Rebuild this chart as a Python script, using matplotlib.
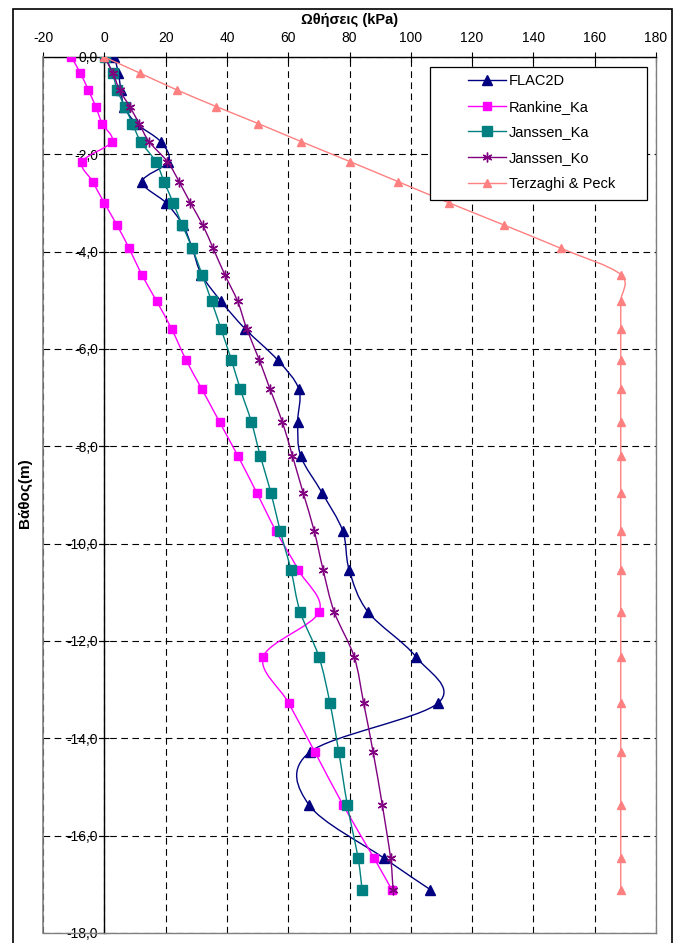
import numpy as np
import matplotlib
matplotlib.use("Agg")
import matplotlib.pyplot as plt
from matplotlib.path import Path
from matplotlib.patches import PathPatch, Rectangle
from matplotlib.lines import Line2D
from matplotlib.ticker import FuncFormatter

plt.rcParams['font.family'] = ['Liberation Sans', 'DejaVu Sans']
plt.rcParams['axes.unicode_minus'] = False

# depth (m), negative downwards
depth = [0.0, -0.33, -0.68, -1.02, -1.37, -1.74, -2.15, -2.56, -3.00, -3.45,
         -3.93, -4.47, -5.02, -5.59, -6.23, -6.83, -7.50, -8.20, -8.96, -9.74,
         -10.54, -11.40, -12.32, -13.27, -14.28, -15.37, -16.46, -17.11]

# thrust (kPa)
flac2d = [3.3, 4.6, 5.4, 6.5, 10.5, 18.4, 20.9, 12.4, 20.2, 25.6,
          28.7, 31.7, 38.1, 46.0, 56.6, 63.5, 63.1, 64.1, 71.1, 77.8,
          79.9, 86.0, 101.6, 109.0, 67.1, 66.8, 91.2, 106.4]
rankine_ka = [-10.8, -7.8, -5.2, -2.8, -0.7, 2.4, -7.2, -3.8, 0.0, 4.1,
              8.1, 12.2, 17.1, 22.0, 26.7, 31.9, 37.6, 43.6, 49.8, 56.0,
              63.3, 70.1, 51.9, 60.1, 68.7, 77.9, 88.0, 93.8]
janssen_ka = [0.3, 2.7, 4.2, 6.7, 9.2, 11.9, 16.8, 19.5, 22.5, 25.4,
              28.7, 31.9, 35.0, 38.1, 41.5, 44.4, 48.0, 50.9, 54.4, 57.4,
              60.9, 63.9, 70.0, 73.6, 76.5, 79.3, 82.8, 84.1]
janssen_ko = [0.0, 2.8, 5.0, 8.3, 11.4, 14.6, 20.6, 24.4, 28.1, 32.1,
              35.5, 39.3, 43.5, 46.5, 50.6, 54.1, 58.1, 61.4, 64.9, 68.5,
              71.4, 75.0, 81.5, 84.6, 87.7, 90.7, 93.4, 94.2]
terzaghi_peck = [0.0, 11.6, 23.8, 36.6, 50.3, 64.3, 80.2, 95.8, 112.6, 130.3,
                 148.9, 168.5, 168.5, 168.5, 168.5, 168.5, 168.5, 168.5, 168.5, 168.5,
                 168.5, 168.5, 168.5, 168.5, 168.5, 168.5, 168.5, 168.5]

x_ticks = [-20, 0, 20, 40, 60, 80, 100, 120, 140, 160, 180]
y_ticks = [0, -2, -4, -6, -8, -10, -12, -14, -16, -18]


def smooth_path(x, y):
    # excel style smoothed line: cubic bezier through the points
    pts = np.column_stack([x, y])
    n = len(pts)
    verts = [pts[0]]
    codes = [Path.MOVETO]
    for i in range(n - 1):
        p0 = pts[max(i - 1, 0)]
        p1 = pts[i]
        p2 = pts[i + 1]
        p3 = pts[min(i + 2, n - 1)]
        verts += [p1 + (p2 - p0) / 6, p2 - (p3 - p1) / 6, p2]
        codes += [Path.CURVE4] * 3
    return Path(verts, codes)


W, H = 679, 943
fig = plt.figure(figsize=(W / 100, H / 100), dpi=100)
L, R, T, B = 43, 656, 57, 933
ax = fig.add_axes([L / W, 1 - B / H, (R - L) / W, (B - T) / H])
ax.set_xlim(-20, 180)
ax.set_ylim(-18, 0)

series = [
    ("FLAC2D", flac2d, "#000080", "^", 7.5, 3),
    ("Rankine_Ka", rankine_ka, "#FF00FF", "s", 5.5, 3.1),
    ("Janssen_Ka", janssen_ka, "#008080", "s", 7, 3.2),
    ("Janssen_Ko", janssen_ko, "#800080", (6, 2, 0), 7, 3.3),
    ("Terzaghi & Peck", terzaghi_peck, "#FF8080", "^", 6, 3.4),
]

handles = []
for name, vals, col, mk, ms, z in series:
    ax.add_patch(PathPatch(smooth_path(vals, depth), fill=False, edgecolor=col,
                           linewidth=1.0, zorder=z))
    ax.plot(vals, depth, linestyle='none', marker=mk, markersize=ms, color=col,
            markeredgecolor=col, markeredgewidth=1.0, zorder=z)
    handles.append(Line2D([], [], color=col, linewidth=1.0, marker=mk,
                          markersize=ms, markeredgecolor=col, label=name))

# grid and axes
ax.set_xticks(x_ticks)
ax.set_yticks(y_ticks)
ax.grid(True, color='black', linestyle=(0, (6, 4)), linewidth=0.8)
ax.set_axisbelow(True)

ax.xaxis.tick_top()
ax.tick_params(axis='x', direction='inout', length=7, width=0.8, pad=5,
               labelsize=10, color='black')
ax.spines['left'].set_position(('data', 0))
ax.spines['left'].set_color('black')
ax.spines['top'].set_color('black')
ax.spines['right'].set_color('#808080')
ax.spines['bottom'].set_color('#808080')
for s in ax.spines.values():
    s.set_linewidth(1.0)
ax.plot([-20, -20], [-18, 0], color='#808080', linewidth=1.2, zorder=2.6,
        clip_on=False)

ax.tick_params(axis='y', direction='inout', length=7, width=0.8, pad=1,
               labelsize=10)
ax.yaxis.set_major_formatter(FuncFormatter(
    lambda v, p: ("%.1f" % v).replace('.', ',').replace('-0,0', '0,0')))

# legend box
ax.add_patch(Rectangle(((430 - L) / (R - L), (B - 200) / (B - T)),
                       (647 - 430) / (R - L), (200 - 67) / (B - T),
                       transform=ax.transAxes, facecolor='white',
                       edgecolor='black', linewidth=0.9, zorder=5))
leg = ax.legend(handles=handles, loc='upper left',
                bbox_to_anchor=((468 - L) / (R - L), (B - 74) / (B - T)),
                frameon=False, borderpad=0, borderaxespad=0, fontsize=10.5,
                handlelength=2.6, handletextpad=0.2, labelspacing=0.8)
leg.set_zorder(6)

fig.text(350 / W, 1 - 20 / H, "Ωθήσεις (kPa)", ha='center', va='center',
         fontsize=10.5, fontweight='bold')
fig.text(25 / W, 1 - 493 / H, "Βάθος(m)", ha='center', va='center',
         rotation=90, fontsize=11, fontweight='bold')

# outer chart border
fig.add_artist(Rectangle((12.5 / W, -0.02), (671.5 - 12.5) / W, 1.02 - 9 / H,
                         transform=fig.transFigure, fill=False,
                         edgecolor='black', linewidth=1.2))

fig.savefig("out.png", dpi=100)
